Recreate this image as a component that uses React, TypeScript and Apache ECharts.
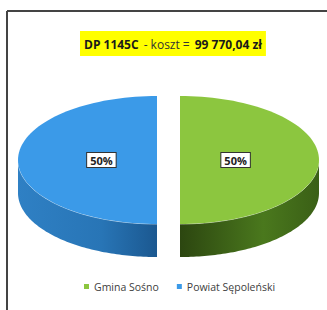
import React, { useEffect, useRef } from "react";
import * as echarts from "echarts";

const categories = ["Gmina Sośno", "Powiat Sępoleński"];
const values = [50, 50];
const titleParts = ["DP 1145C", "- koszt =", "99 770,04 zł"];

const topColors = ["#8cc63f", "#3b9ae8"];
const sideStops = [
  ["#2c4610", "#4a781d", "#3a5f16"],
  ["#2f80c4", "#2875b6", "#1b5890"],
];

export default function App() {
  const ref = useRef<HTMLDivElement>(null);
  useEffect(() => {
    if (!ref.current) return;
    const chart = echarts.init(ref.current, null, { renderer: "svg" });
    const total = values.reduce((a, b) => a + b, 0);
    const starts: number[] = [];
    let acc = 0;
    values.forEach((v) => {
      starts.push(acc);
      acc += v;
    });

    const cx = 168.5;
    const cy = 160;
    const rx = 139;
    const ry = 64;
    const depth = 33;
    const explode = 11.5;

    const renderItem = (params: any, api: any) => {
      const i = params.seriesIndex;
      const a0 = -Math.PI / 2 + (starts[i] / total) * Math.PI * 2;
      const a1 = -Math.PI / 2 + ((starts[i] + values[i]) / total) * Math.PI * 2;
      const mid = (a0 + a1) / 2;
      const ox = cx + explode * Math.cos(mid);
      const oy = cy + explode * Math.sin(mid) * (ry / rx);
      const pt = (t: number, dy = 0) => [ox + rx * Math.cos(t), oy + ry * Math.sin(t) + dy];
      const N = 80;
      const top: number[][] = [[ox, oy]];
      for (let k = 0; k <= N; k++) top.push(pt(a0 + ((a1 - a0) * k) / N));
      const children: any[] = [];
      const s0 = Math.max(a0, 0);
      const s1 = Math.min(a1, Math.PI);
      if (s1 > s0) {
        const sidePts: number[][] = [];
        const edge: number[][] = [];
        for (let k = 0; k <= N; k++) {
          const p = pt(s0 + ((s1 - s0) * k) / N);
          sidePts.push(p);
          edge.push(p);
        }
        for (let k = N; k >= 0; k--) sidePts.push(pt(s0 + ((s1 - s0) * k) / N, depth));
        const st = sideStops[i];
        children.push({
          type: "polygon",
          shape: { points: sidePts },
          style: {
            fill: new echarts.graphic.LinearGradient(0, 0, 1, 0, [
              { offset: 0, color: st[0] },
              { offset: 0.6, color: st[1] },
              { offset: 1, color: st[2] },
            ]),
          },
        });
        children.push({
          type: "polyline",
          shape: { points: edge },
          style: { stroke: "rgba(255,255,255,0.55)", lineWidth: 1, fill: "none" },
        });
      }
      children.push({
        type: "polygon",
        shape: { points: top },
        style: { fill: topColors[i] },
      });
      const lx = ox + 0.4 * rx * Math.cos(mid);
      const ly = oy + 0.4 * ry * Math.sin(mid);
      const pct = Math.round((values[i] / total) * 100) + "%";
      children.push({
        type: "text",
        style: {
          text: pct,
          x: lx,
          y: ly,
          align: "center",
          verticalAlign: "middle",
          fill: "#222",
          font: "bold 11px 'Open Sans', sans-serif",
          backgroundColor: "#ffffff",
          borderColor: "#333333",
          borderWidth: 1,
          padding: [2, 3, 1, 3],
        },
      });
      return { type: "group", children };
    };

    chart.setOption({
      animation: false,
      backgroundColor: "#ffffff",
      title: {
        left: 80,
        top: 31,
        padding: [4, 4, 3, 4],
        backgroundColor: "#ffff00",
        text: `{a|${titleParts[0]}} {b|${titleParts[1]}} {a|${titleParts[2]}}`,
        textStyle: {
          rich: {
            a: { fontFamily: "'Open Sans', sans-serif", fontWeight: "bold", fontSize: 12, color: "#1a1a1a" },
            b: { fontFamily: "'Open Sans', sans-serif", fontWeight: "normal", fontSize: 12, color: "#333333" },
          },
        },
      },
      legend: {
        bottom: 13,
        left: 79,
        icon: "rect",
        itemWidth: 5,
        itemHeight: 5,
        itemGap: 18,
        data: categories,
        textStyle: { fontFamily: "'Open Sans', sans-serif", fontSize: 10.5, color: "#404040" },
      },
      graphic: [
        { type: "line", shape: { x1: 7, y1: 11, x2: 327, y2: 11 }, style: { stroke: "#444", lineWidth: 2 } },
        { type: "line", shape: { x1: 7, y1: 11, x2: 7, y2: 310 }, style: { stroke: "#444", lineWidth: 2 } },
      ],
      series: categories.map((name, i) => ({
        type: "custom",
        name,
        coordinateSystem: "none",
        itemStyle: { color: topColors[i] },
        renderItem,
        data: [values[i]],
      })),
    });
    return () => chart.dispose();
  }, []);
  return (
    <div style={{ position: "fixed", left: 0, top: 0 }}>
      <div ref={ref} style={{ width: 327, height: 310 }} />
    </div>
  );
}
